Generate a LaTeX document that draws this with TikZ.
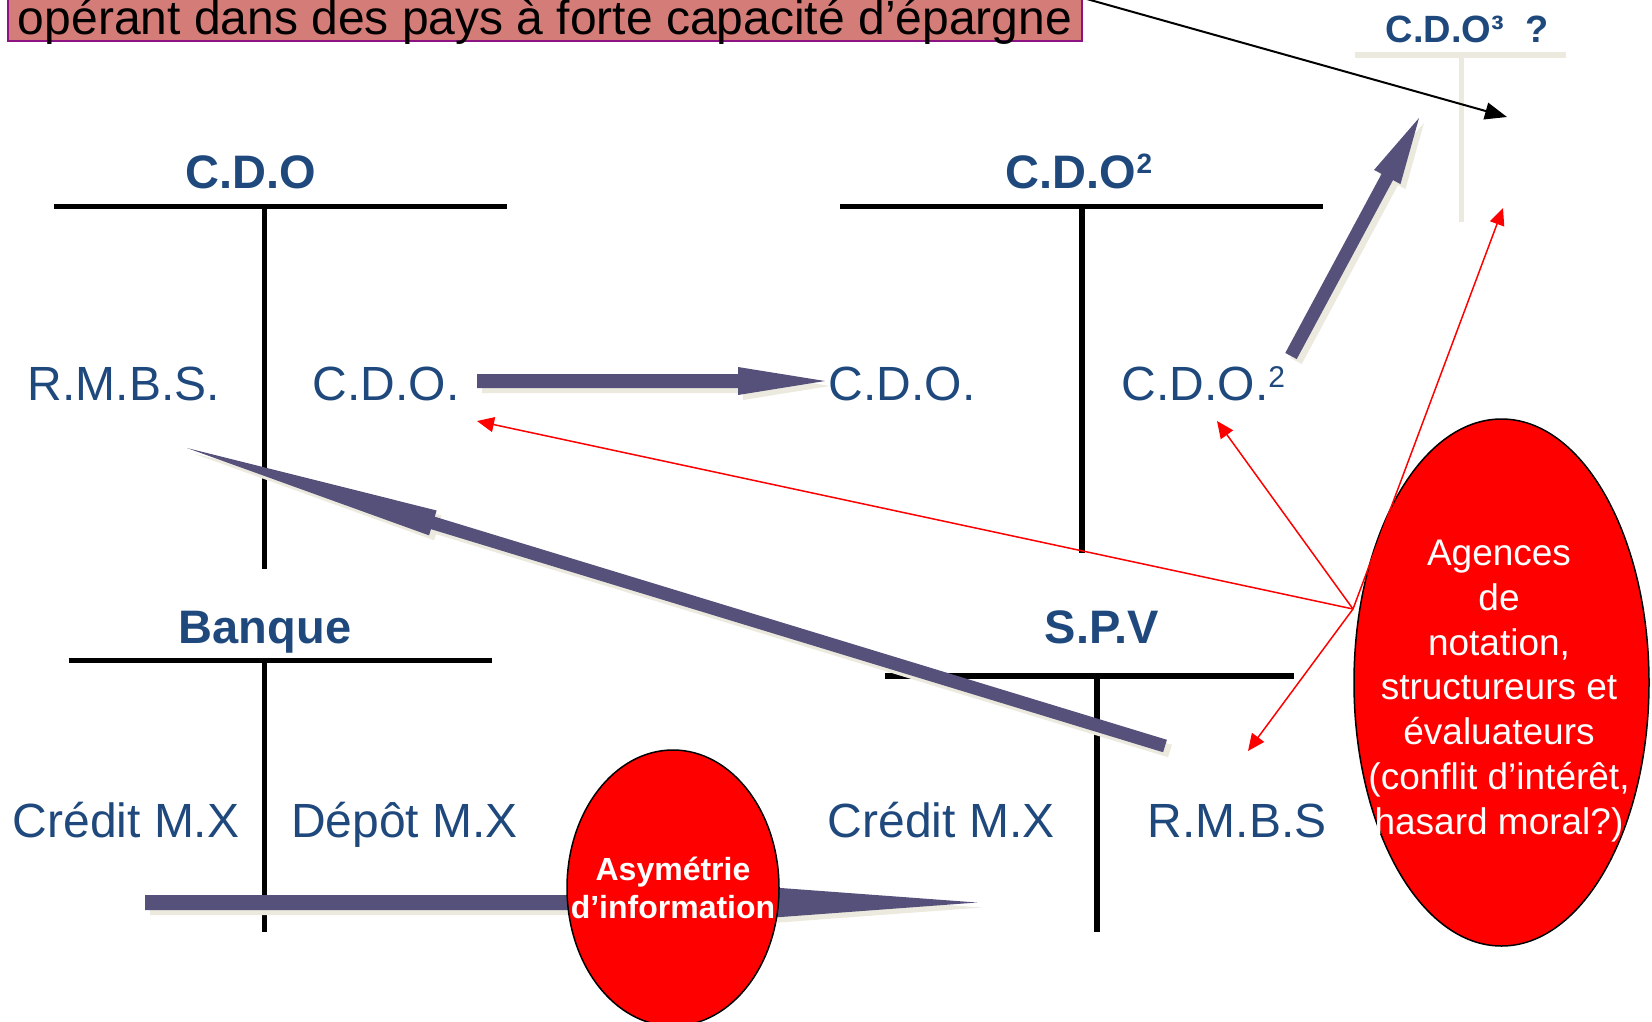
\documentclass[tikz,border=0pt]{standalone}
\usepackage{fontspec}
\setmainfont{Liberation Sans}
\usetikzlibrary{calc,shapes.geometric,arrows.meta}
\definecolor{hblue}{RGB}{31,73,125}
\definecolor{arrowc}{RGB}{86,81,122}
\definecolor{shadowc}{RGB}{236,234,222}
\definecolor{bannerfill}{RGB}{212,125,120}
\definecolor{bannerdraw}{RGB}{140,20,130}
\tikzset{
  tline/.style={line width=5.5pt},
  beigeline/.style={line width=5.5pt, draw=shadowc},
  headtxt/.style={font=\fontsize{47pt}{56pt}\selectfont\bfseries, text=hblue, inner sep=0pt, anchor=base},
  bodytxt/.style={font=\fontsize{48pt}{57pt}\selectfont, text=hblue, inner sep=0pt, anchor=base west},
  redarrow/.style={draw=red, line width=1.5pt, -{Triangle[length=17pt,width=15pt]}},
  blackarrow/.style={draw=black, line width=2pt, -{Triangle[length=22pt,width=17pt]}},
  redell/.style={ellipse, draw=black, line width=1.5pt, fill=red, inner sep=0pt},
}
% raised superscript digit: size, raise, digit
\newcommand\mysup[3]{\raisebox{#2}{\fontsize{#1}{#1}\selectfont #3}}
\newcommand\blockarrow[5]{%
  \coordinate (hb) at ($(#2)!#5!(#1)$);
  \foreach \c/\s in {shadowc/5pt, arrowc/0pt} {
    \fill[\c, transform canvas={shift={(\s,-\s)}}] ($(#1)!#3!90:(#2)$) -- ($(hb)!#3!90:(#2)$) -- ($(hb)!#4!90:(#2)$) -- (#2) -- ($(hb)!#4!-90:(#2)$) -- ($(hb)!#3!-90:(#2)$) -- ($(#1)!#3!-90:(#2)$) -- cycle;
  }%
}
\begin{document}
\begin{tikzpicture}[x=1pt,y=-1pt]
\useasboundingbox (0,0) rectangle (1652,1021);
\clip (0,0) rectangle (1652,1021);

% banner
\node[draw=bannerdraw, line width=2pt, fill=bannerfill, anchor=south, inner sep=0pt,
  minimum width=1074pt, text height=70pt, text depth=7pt,
  font=\fontsize{48pt}{57pt}\selectfont] (banner) at (545,42)
  {opérant dans des pays à forte capacité d’épargne};

% T-accounts
\draw[tline] (54,206.5) -- (507,206.5);
\draw[tline] (264.5,206.5) -- (264.5,569);
\draw[tline] (840,206.5) -- (1323,206.5);
\draw[tline] (1082,206.5) -- (1082,553);
\draw[tline] (68.5,660.6) -- (492,660.6);
\draw[tline] (264.5,660.6) -- (264.5,932);
\draw[tline] (885,676) -- (1294,676);
\draw[tline] (1097,676) -- (1097,932);
\draw[beigeline] (1355,55) -- (1566,55);
\draw[beigeline, line width=5pt] (1461,55) -- (1461,222);

% headings
\node[headtxt] (hcdo) at (251,188) {C.D.O};
\node[headtxt] (hcdo2) at (1079,188) {C.D.O\mysup{28pt}{14.7pt}{2}};
\node[headtxt] (hbanque) at (265,643) {Banque};
\node[headtxt] (hspv) at (1102,643) {S.P.V};
\node[headtxt, font=\fontsize{38pt}{46pt}\selectfont\bfseries] (hcdo3) at (1467,42) {C.D.O³\ \ ?};

% body texts
\node[bodytxt] (rmbsL) at (27.5,400) {R.M.B.S.};
\node[bodytxt] (cdoL) at (312.5,400) {C.D.O.};
\node[bodytxt] (cdoM) at (828.5,400) {C.D.O.};
\node[bodytxt] (cdo2) at (1121.5,400) {C.D.O.\mysup{30pt}{12.5pt}{2}};
\node[bodytxt] (creditL) at (12.5,837) {Crédit M.X};
\node[bodytxt] (depot) at (291,837) {Dépôt M.X};
\node[bodytxt] (creditR) at (827.5,837) {Crédit M.X};
\node[bodytxt] (rmbsR) at (1147.5,837) {R.M.B.S};

% connector end points
\coordinate (a1s) at (477,381);   \coordinate (a1e) at (825,381);
\coordinate (a2s) at (1291,356);  \coordinate (a2e) at (1419,118);
\coordinate (a3s) at (1165,746);  \coordinate (a3e) at (187,448);
\coordinate (a4s) at (145,902.5); \coordinate (a4e) at (977,902.5);

% block arrows
\blockarrow{a1s}{a1e}{7pt}{14pt}{87pt}
\blockarrow{a2s}{a2e}{6.5pt}{15pt}{67pt}
\blockarrow{a3s}{a3e}{6.5pt}{13pt}{257pt}
\blockarrow{a4s}{a4e}{7.5pt}{19pt}{257pt}

% black arrow from banner
\coordinate (bs) at (1085,-1.5);
\coordinate (be) at (1507,117);
\draw[blackarrow] (bs) -- (be);

% Asymetrie ellipse
\node[redell, minimum width=212pt, minimum height=276pt] (asym) at (673,888) {};
\node[font=\fontsize{32pt}{38pt}\selectfont\bfseries, text=white, align=center, inner sep=0pt]
  (asymtxt) at (673,888) {Asymétrie\\d’information};

% Agences ellipse
\node[redell, minimum width=295pt, minimum height=527pt] (agences) at (1501.5,682.5) {};
\node[font=\fontsize{37pt}{44.8pt}\selectfont, text=white, align=center, inner sep=0pt]
  (agtxt) at (1499,691) {Agences\\de\\notation,\\structureurs et\\évaluateurs\\(conflit d’intérêt,\\hasard moral?)};

% red arrows
\coordinate (agj) at (1353,609);
\coordinate (r1) at (477,421);
\coordinate (r2) at (1217,421);
\coordinate (r3) at (1248,751);
\coordinate (r4) at (1503,208);
\draw[redarrow] (agj) -- (r1);
\draw[redarrow] (agj) -- (r2);
\draw[redarrow] (agj) -- (r3);
\draw[redarrow] (agj) -- (r4);
\end{tikzpicture}
\end{document}
